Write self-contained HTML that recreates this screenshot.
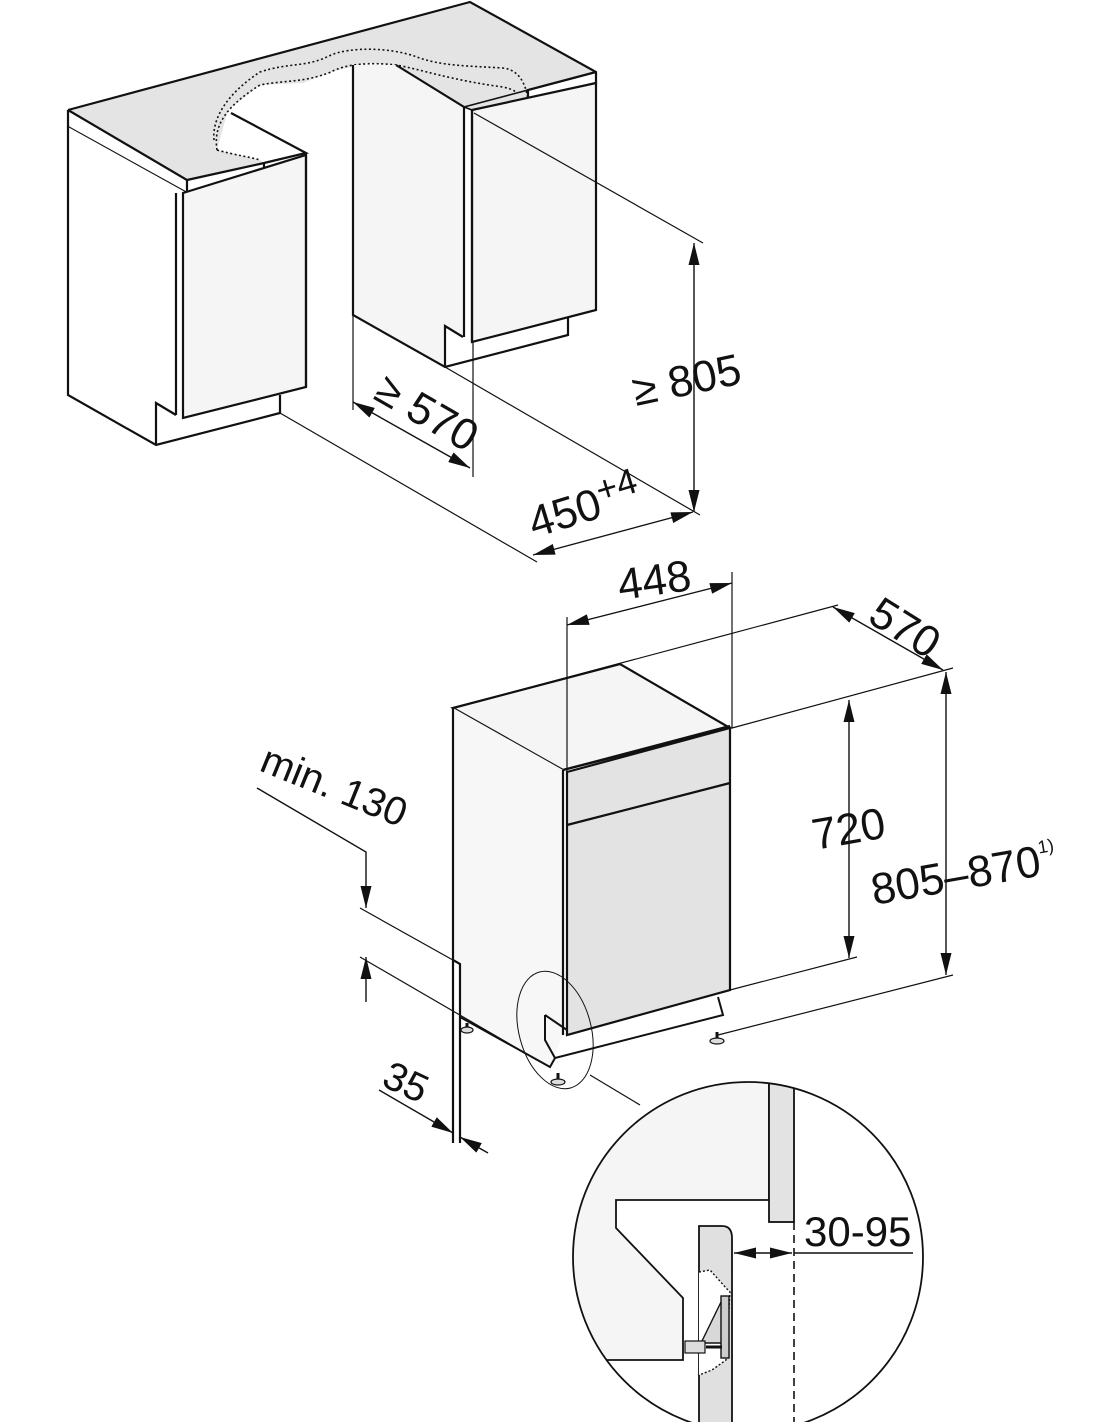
<!DOCTYPE html>
<html><head><meta charset="utf-8"><style>
html,body{margin:0;padding:0;background:#fff}
svg{display:block}
text{font-family:"Liberation Sans Narrow","Liberation Sans",sans-serif;fill:#111}
</style></head><body>
<svg width="1100" height="1422" viewBox="0 0 1100 1422" xmlns="http://www.w3.org/2000/svg">
<defs>
<marker id="a" viewBox="0 0 10 10" refX="10" refY="5" markerWidth="10" markerHeight="10" orient="auto-start-reverse" markerUnits="userSpaceOnUse"><path d="M0,1.5 L10,5 L0,8.5 Z" fill="#111"/></marker>
<marker id="A" viewBox="0 0 20 10" refX="20" refY="5" markerWidth="22" markerHeight="11" orient="auto-start-reverse" markerUnits="userSpaceOnUse"><path d="M0,0 L20,5 L0,10 Z" fill="#111"/></marker>
<clipPath id="c"><circle cx="748" cy="1257" r="175"/></clipPath>
</defs>
<g stroke="#111" stroke-width="1.2" fill="none">
<!-- TOP: countertop -->
<polygon points="68,110 470,2 596,72 528,90 528,100 472,110 464,107 396,65 367,63 331,72 303,83 260,85 228,110 217,150 260,160 264,163 187,180" fill="#e4e4e4" stroke="none"/>
<path d="M68,110 L470,2 L596,72 L596,83 L528,100 L528,90 L596,72" stroke-width="2.2"/>
<path d="M68,110 L187,180 L187,193 M68,110 L68,127 L187,193 L264,172 L264,163 L187,180 M264,163 L306,153 L231,113" stroke-width="2.2"/>
<path d="M528,100 L472,110 L464,107 L528,90" stroke-width="1.6"/>
<path d="M214,140 C212,120 225,95 260,72 C290,62 306,68 331,55 C350,47 390,47 417,57 C440,66 470,66 503,68 C520,70 526,85 528,100" stroke-dasharray="2,2.5" stroke-width="1.6"/>
<path d="M217,150 C214,130 220,110 260,85 C285,80 303,83 331,72 C345,64 370,62 396,65 C420,69 450,80 503,87 C512,89 515,91 517,93" stroke-dasharray="2,2.5" stroke-width="1.6"/>
<path d="M217,150 C235,155 250,157 260,160" stroke-dasharray="2,2.5" stroke-width="1.6"/>
<!-- left cabinet -->
<polygon points="68,127 187,193 183,418 176,415 156,403 156,445 68,395" fill="#fff" stroke="none"/>
<polygon points="183,193 306,155 306,387 183,418" fill="#f5f5f5" stroke-width="2.2"/>
<path d="M68,127 L68,395 L156,445 L280,413 L280,395 M156,445 L156,403 L176,415 M176,193 L176,415 M306,387 L306,155" stroke-width="2.2"/>
<!-- middle side / right cabinet -->
<polygon points="353,65 396,65 464,107 464,337 445,326 445,367 353,315" fill="#f5f5f5" stroke="none"/>
<polygon points="472,110 596,83 596,310 472,342" fill="#f5f5f5" stroke-width="2.2"/>
<path d="M353,65 L353,315 L445,367 L568,335 L568,317 M445,367 L445,326 L463,337 M396,65 L464,107 L464,337 M472,110 L472,342" stroke-width="2.2"/>
<!-- top dims -->
<path d="M474,113 L703,243"/>
<path d="M694,243 L694,512" marker-start="url(#A)" marker-end="url(#A)" stroke-width="1.4"/>
<path d="M445,367 L700,515 M280,413 L537,562"/>
<path d="M533,555 L693,512" marker-start="url(#A)" marker-end="url(#A)" stroke-width="1.4"/>
<path d="M353,315 L353,410 M473,342 L473,477"/>
<path d="M353,402 L470,468" marker-start="url(#A)" marker-end="url(#A)" stroke-width="1.4"/>
</g>
<text x="0" y="0" font-size="44" transform="translate(636,406) rotate(-12)">≥ 805</text>
<text x="0" y="0" font-size="44" transform="translate(534,538) rotate(-17)">450<tspan font-size="36" dy="-14">+4</tspan></text>
<text x="0" y="0" font-size="44" transform="translate(372,398) rotate(30)">≥ 570</text>

<g stroke="#111" stroke-width="1.2" fill="none">
<!-- BOTTOM appliance -->
<polygon points="453,708 620,664 730,728 563,770" fill="#f5f5f5" stroke-width="2.2"/>
<polygon points="453,708 563,770 563,1035 550,1067 460,1017 460,964 453,960" fill="#f7f7f7" stroke="none"/>
<polygon points="567,772 730,728 730,990 567,1035" fill="#e3e3e3" stroke-width="2.2"/>
<path d="M563,770 L730,726 M567,825 L730,783" stroke-width="2.2"/>
<path d="M453,708 L453,960 L460,964 L460,1143 M453,960 L453,1143 M563,770 L563,1035" stroke-width="2.2"/>
<path d="M460,1017 L550,1067 L555,1058 L723,1015 L718,997 M545,1015 L567,1030 M545,1015 L545,1040 L555,1058" stroke-width="2"/>
<path d="M467,1023 l0,6 M558,1073 l0,8 M717,1032 l0,8" stroke-width="3"/>
<ellipse cx="467" cy="1030" rx="6" ry="3" fill="#ddd"/>
<ellipse cx="558" cy="1082" rx="7" ry="3" fill="#ddd"/>
<ellipse cx="717" cy="1041" rx="7" ry="3" fill="#ddd"/>
<ellipse cx="555" cy="1030" rx="36" ry="60" transform="rotate(-15 555 1030)" stroke-width="1"/>
<path d="M590,1075 L640,1105"/>
<!-- bottom dims -->
<path d="M567,617 L567,775 M732,572 L732,728"/>
<path d="M567,625 L732,583" marker-start="url(#A)" marker-end="url(#A)" stroke-width="1.4"/>
<path d="M453,708 L838,605 M732,728 L953,668"/>
<path d="M833,607 L943,670" marker-start="url(#A)" marker-end="url(#A)" stroke-width="1.4"/>
<path d="M849,700 L849,958" marker-start="url(#A)" marker-end="url(#A)" stroke-width="1.4"/>
<path d="M946,672 L946,975" marker-start="url(#A)" marker-end="url(#A)" stroke-width="1.4"/>
<path d="M730,990 L857,957 M718,1035 L953,975"/>
<path d="M257,788 L366,852 L366,908" marker-end="url(#A)" stroke-width="1.4"/>
<path d="M366,1002 L366,957" marker-end="url(#A)" stroke-width="1.4"/>
<path d="M360,908 L460,964 M360,957 L520,1050"/>
<path d="M379,1090 L453,1133" marker-end="url(#A)" stroke-width="1.4"/>
<path d="M488,1153 L460,1137" marker-end="url(#A)" stroke-width="1.4"/>
</g>
<text font-size="44" transform="translate(620,600) rotate(-8)">448</text>
<text font-size="44" transform="translate(866,621) rotate(32)">570</text>
<text font-size="44" transform="translate(815,850) rotate(-10)">720</text>
<text font-size="44" transform="translate(874,905) rotate(-10)">805–870<tspan font-size="18" dy="-22">1)</tspan></text>
<text font-size="40" transform="translate(258,770) rotate(22)">min. 130</text>
<text font-size="40" transform="translate(380,1085) rotate(25)">35</text>

<!-- detail circle -->
<g clip-path="url(#c)" stroke="#111" fill="none">
<polygon points="560,1070 769,1070 769,1200 616,1200 616,1228 683,1298 683,1360 560,1360" fill="#f5f5f5" stroke-width="1.8"/>
<rect x="769" y="1070" width="25" height="152" fill="#e3e3e3" stroke-width="1.8"/>
<path d="M699,1430 L699,1226 L722,1226 Q732,1226 732,1238 L732,1430 Z" fill="#e0e0e0" stroke-width="1.8"/>
<path d="M699,1272 L710,1270 L726,1288 L730,1292 L726,1360 L712,1370 L699,1375" stroke-dasharray="2,2" fill="#fff" stroke-width="1.4"/>
<polygon points="701,1343 722,1300 722,1343" fill="#d8d8d8" stroke-width="1.4"/>
<rect x="721" y="1296" width="8" height="62" fill="#ccc" stroke-width="1.4"/>
<rect x="685" y="1341" width="20" height="12" fill="#ddd" stroke-width="1.2"/>
<path d="M706,1347 L722,1347" stroke-width="3"/>
<path d="M794,1222 L794,1430" stroke-dasharray="8,5" stroke-width="1.6"/>
</g>
<circle cx="748" cy="1257" r="175" fill="none" stroke="#111" stroke-width="1.8"/>
<path d="M734,1253 L792,1253" stroke="#111" stroke-width="1.6" marker-start="url(#A)" marker-end="url(#A)" fill="none"/>
<path d="M794,1253 L913,1253" stroke="#111" stroke-width="1.6"/>
<text font-size="42" x="804" y="1246">30-95</text>
</svg>
</body></html>
